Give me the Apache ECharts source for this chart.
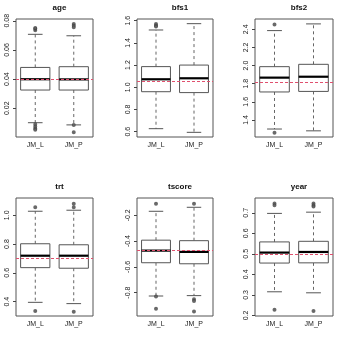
<!doctype html>
<html>
<head>
<meta charset="utf-8">
<title>boxplots</title>
<script src="https://cdn.jsdelivr.net/npm/echarts@6/dist/echarts.min.js"></script>
<style>
  html,body{margin:0;padding:0;background:#fff;}
  #chart{width:337px;height:337px;}
</style>
</head>
<body>
<div id="chart"></div>
<script>
// groups on the x axis
var groups = ['JM_L', 'JM_P'];
var names = ['age', 'bfs1', 'bfs2', 'trt', 'tscore', 'year'];

// [lower whisker, Q1, median, Q3, upper whisker] per group
var ageStats    = [[0.0101, 0.0325, 0.0399, 0.0480, 0.0707], [0.0086, 0.0325, 0.0398, 0.0485, 0.0697]];
var bfs1Stats   = [[0.627, 0.960, 1.072, 1.186, 1.516], [0.594, 0.952, 1.081, 1.200, 1.573]];
var bfs2Stats   = [[1.300, 1.709, 1.867, 1.988, 2.386], [1.280, 1.715, 1.877, 2.014, 2.460]];
var trtStats    = [[0.395, 0.636, 0.719, 0.802, 1.028], [0.386, 0.632, 0.719, 0.795, 1.035]];
var tscoreStats = [[-0.826, -0.568, -0.474, -0.393, -0.169], [-0.823, -0.576, -0.484, -0.397, -0.138]];
var yearStats   = [[0.315, 0.455, 0.506, 0.558, 0.697], [0.310, 0.456, 0.509, 0.561, 0.703]];

// outliers: [group index, value]
var ageOut    = [[0, 0.0735], [0, 0.0745], [0, 0.0750], [0, 0.0090], [0, 0.0075], [0, 0.0062], [0, 0.0052], [1, 0.0777], [1, 0.0765], [1, 0.0755], [1, 0.0086], [1, 0.0036]];
var bfs1Out   = [[0, 1.570], [0, 1.556], [0, 1.548]];
var bfs2Out   = [[0, 2.453], [0, 1.260]];
var trtOut    = [[0, 1.055], [0, 0.335], [1, 1.080], [1, 1.055], [1, 0.330]];
var tscoreOut = [[0, -0.110], [0, -0.830], [0, -0.925], [1, -0.110], [1, -0.852], [1, -0.865], [1, -0.946]];
var yearOut   = [[0, 0.745], [0, 0.737], [0, 0.228], [1, 0.745], [1, 0.737], [1, 0.730], [1, 0.221]];

// dashed reference level per panel
var refLevels = [0.040, 1.055, 1.819, 0.700, -0.474, 0.500];

// y tick labels per panel
var ageTicks    = [0.02, 0.04, 0.06, 0.08];
var bfs1Ticks   = [0.6, 0.8, 1.0, 1.2, 1.4, 1.6];
var bfs2Ticks   = [1.4, 1.6, 1.8, 2.0, 2.2, 2.4];
var trtTicks    = [0.4, 0.6, 0.8, 1.0];
var tscoreTicks = [-0.8, -0.6, -0.4, -0.2];
var yearTicks   = [0.2, 0.3, 0.4, 0.5, 0.6, 0.7];

var allStats = [ageStats, bfs1Stats, bfs2Stats, trtStats, tscoreStats, yearStats];
var allOut = [ageOut, bfs1Out, bfs2Out, trtOut, tscoreOut, yearOut];
var allTicks = [ageTicks, bfs1Ticks, bfs2Ticks, trtTicks, tscoreTicks, yearTicks];
var decimals = [2, 1, 1, 1, 1, 1];
var yRange = [[0.0003, 0.0812], [0.552, 1.615], [1.212, 2.514], [0.300, 1.120], [-0.981, -0.066], [0.197, 0.772]];

// panel rectangles
var grids = [
    {left: 16, top: 19, width: 77, height: 118},
    {left: 137, top: 19, width: 76, height: 118},
    {left: 255, top: 19, width: 78, height: 118},
    {left: 16, top: 198, width: 77, height: 118},
    {left: 137, top: 198, width: 76, height: 118},
    {left: 255, top: 198, width: 78, height: 118}
];

var font = 'Liberation Sans, Arial, sans-serif';

function renderBox(params, api) {
    var x = api.value(0);
    var lo = api.coord([x, api.value(1)]);
    var q1 = api.coord([x, api.value(2)]);
    var md = api.coord([x, api.value(3)]);
    var q3 = api.coord([x, api.value(4)]);
    var hi = api.coord([x, api.value(5)]);
    var bw = api.size([1, 0])[0] * 0.76;
    var cx = lo[0];
    var edge = '#555';
    var wh = {stroke: '#555', lineWidth: 0.9, lineDash: [3, 3]};
    return {
        type: 'group',
        children: [
            {type: 'line', shape: {x1: cx, y1: q3[1], x2: cx, y2: hi[1]}, style: wh},
            {type: 'line', shape: {x1: cx, y1: q1[1], x2: cx, y2: lo[1]}, style: wh},
            {type: 'line', shape: {x1: cx - bw / 4, y1: hi[1], x2: cx + bw / 4, y2: hi[1]}, style: {stroke: edge, lineWidth: 1}},
            {type: 'line', shape: {x1: cx - bw / 4, y1: lo[1], x2: cx + bw / 4, y2: lo[1]}, style: {stroke: edge, lineWidth: 1}},
            {type: 'rect', shape: {x: cx - bw / 2, y: q3[1], width: bw, height: q1[1] - q3[1]}, style: {fill: '#fff', stroke: edge, lineWidth: 1}},
            {type: 'line', shape: {x1: cx - bw / 2, y1: md[1], x2: cx + bw / 2, y2: md[1]}, style: {stroke: '#000', lineWidth: 2.2}}
        ]
    };
}

var titles = [], xAxes = [], yAxes = [], series = [];
for (var i = 0; i < 6; i++) {
    var g = grids[i];
    titles.push({
        text: names[i],
        left: g.left + g.width / 2,
        top: i < 3 ? -1 : 178,
        textAlign: 'center',
        textStyle: {fontSize: 8, fontWeight: 'bold', color: '#111', fontFamily: font}
    });
    xAxes.push({
        type: 'category',
        gridIndex: i,
        data: groups,
        boundaryGap: true,
        axisLine: {show: false},
        axisTick: {alignWithLabel: true, length: 3, lineStyle: {color: '#444'}},
        axisLabel: {fontSize: 7, color: '#222', margin: 5, fontFamily: font}
    });
    (function (idx) {
        yAxes.push({
            type: 'value',
            gridIndex: idx,
            min: yRange[idx][0],
            max: yRange[idx][1],
            axisLine: {show: false},
            splitLine: {show: false},
            axisTick: {show: true, length: 3, customValues: allTicks[idx], lineStyle: {color: '#444'}},
            axisLabel: {
                rotate: 90, fontSize: 7, color: '#222', margin: 5, fontFamily: font,
                customValues: allTicks[idx],
                formatter: function (v) { return Number(v).toFixed(decimals[idx]); }
            }
        });
    })(i);
    var boxData = allStats[i].map(function (s, k) { return [k].concat(s); });
    series.push({
        type: 'custom',
        xAxisIndex: i,
        yAxisIndex: i,
        renderItem: renderBox,
        encode: {x: 0, y: [1, 2, 3, 4, 5]},
        data: boxData,
        z: 2
    });
    series.push({
        type: 'scatter',
        xAxisIndex: i,
        yAxisIndex: i,
        symbol: 'emptyCircle',
        symbolSize: 2,
        itemStyle: {color: '#444', borderColor: '#444', borderWidth: 0.7},
        data: allOut[i],
        z: 3,
        markLine: {
            silent: true,
            symbol: 'none',
            label: {show: false},
            lineStyle: {color: '#e0506e', type: [3, 2], width: 1},
            data: [{yAxis: refLevels[i]}],
            z: 5
        }
    });
}

var option = {
    animation: false,
    backgroundColor: '#fff',
    title: titles,
    grid: grids.map(function (g) {
        return {left: g.left, top: g.top, width: g.width, height: g.height, show: true, borderColor: '#555', borderWidth: 1, backgroundColor: 'transparent'};
    }),
    xAxis: xAxes,
    yAxis: yAxes,
    series: series
};

var chart = echarts.init(document.getElementById('chart'));
chart.setOption(option);
</script>
</body>
</html>
